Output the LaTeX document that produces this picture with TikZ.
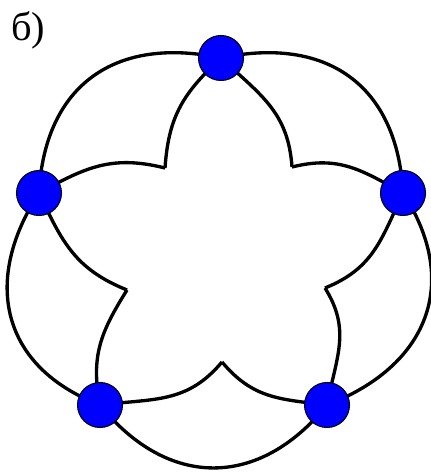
\documentclass[tikz,border=0pt]{standalone}
\usepackage{fontspec}
\setmainfont{Liberation Serif}
\usetikzlibrary{backgrounds}
\definecolor{cblue}{HTML}{0000FF}
\tikzset{
  vertex/.style={circle, draw=black, fill=cblue, line width=0.6pt, minimum size=0.9cm, inner sep=0pt},
  edge/.style={draw=black, line width=1.9pt},
  outer/.style={edge, looseness=1.22},
  inner/.style={edge, looseness=1.08},
  tag/.style={font=\fontsize{23}{27}\selectfont, inner sep=0pt},
}

\begin{document}
\begin{tikzpicture}[x=0.02cm, y=0.02cm]
  \useasboundingbox (0,0) rectangle (430,472);
  \node[tag, anchor=north west] (title) at (11,461) {б)};
  \node[vertex] (top) at (221,414) {};
  \node[vertex] (left) at (39,279) {};
  \node[vertex] (right) at (403,279) {};
  \node[vertex] (bl) at (100,67) {};
  \node[vertex] (br) at (327,67) {};
  \coordinate (ctl) at (165,304);
  \coordinate (ctr) at (292,305);
  \coordinate (cl) at (127,182);
  \coordinate (cr) at (325,184);
  \coordinate (cb) at (222,110);
  \begin{scope}[on background layer]
    \draw[outer] (top.center) to[out=168, in=87] (left.center);
    \draw[outer] (left.center) to[out=237, in=159] (bl.center);
    \draw[outer] (bl.center) to[out=309, in=231] (br.center);
    \draw[outer] (br.center) to[out=21, in=303] (right.center);
    \draw[outer] (right.center) to[out=93, in=12] (top.center);
    \draw[inner] (top.center) to[out=223, in=86] (ctl);
    \draw[inner] (top.center) to[out=-43, in=94] (ctr);
    \draw[inner] (left.center) to[out=295, in=158] (cl);
    \draw[inner] (left.center) to[out=29, in=166] (ctl);
    \draw[inner] (bl.center) to[out=7, in=230] (cb);
    \draw[inner] (bl.center) to[out=101, in=238] (cl);
    \draw[inner] (br.center) to[out=79, in=302] (cr);
    \draw[inner] (br.center) to[out=173, in=310] (cb);
    \draw[inner] (right.center) to[out=151, in=14] (ctr);
    \draw[inner] (right.center) to[out=-115, in=22] (cr);
  \end{scope}
\end{tikzpicture}
\end{document}
